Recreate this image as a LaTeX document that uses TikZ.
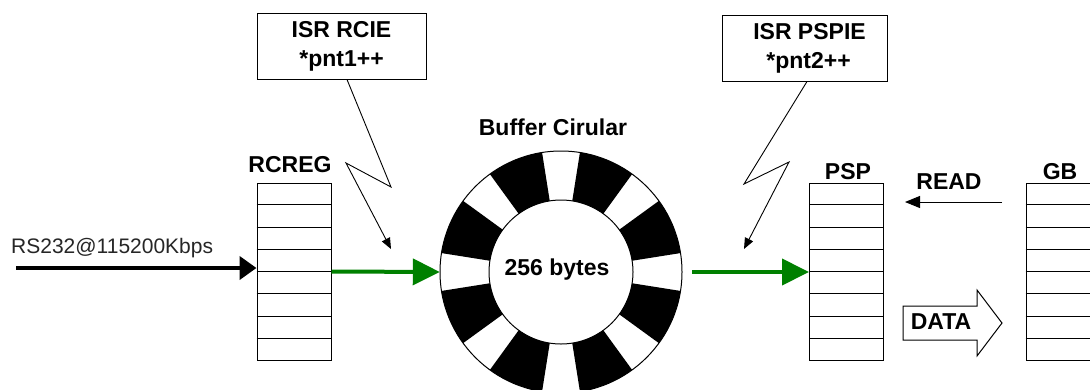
\documentclass[tikz,border=0pt]{standalone}
\usepackage{fontspec}
\setmainfont{Liberation Sans}
\usetikzlibrary{arrows.meta,calc}
\definecolor{arrgreen}{RGB}{0,128,0}
\begin{document}
\begin{tikzpicture}[x=1pt,y=-1pt,
  lbl/.style={font=\bfseries\fontsize{23}{26}\selectfont,inner sep=0pt},
  isrbox/.style={draw,line width=1pt,minimum height=66pt,align=center,inner sep=0pt,
     font=\bfseries\fontsize{23}{29}\selectfont},
  regbox/.style={draw,line width=1pt,minimum width=74pt,minimum height=177pt,inner sep=0pt},
  thick arr/.style={line width=4.5pt,-{Triangle[length=17pt,width=23pt]}},
  green arr/.style={arrgreen,line width=4pt,-{Triangle[length=27pt,width=26pt]}},
  bolt/.style={line width=0.9pt,line join=miter,-{Triangle[length=11pt,width=9pt]}},
  read arr/.style={line width=1pt,-{Triangle[length=15pt,width=12pt]}}]
\clip (0,0) rectangle (1090,389);
\fill[white] (0,0) rectangle (1090,389);

% registers
\node[regbox] (rcreg) at (294,271.5) {};
\node[regbox] (psp) at (846.5,271.5) {};
\node[regbox] (gb) at (1063,271.5) {};
\foreach \r in {rcreg,psp,gb}{
  \foreach \k in {1,...,7}{
    \draw[line width=1pt] ($(\r.north west)!\k/8!(\r.south west)$) -- ($(\r.north east)!\k/8!(\r.south east)$);
  }
}
\node[lbl] (rcregl) at (290,165) {RCREG};
\node[lbl] (pspl) at (848,172) {PSP};
\node[lbl] (gbl) at (1060,172) {GB};

% ring buffer
\node[circle,minimum size=242pt,inner sep=0pt] (ring) at (561,272) {};
\foreach \a in {22.5,67.5,...,337.5}{
  \fill[black] ($(ring.center)+(\a-13.5:121)$) arc[start angle=\a-13.5,end angle=\a+13.5,radius=121]
     -- ($(ring.center)+(\a+13.5:72)$) arc[start angle=\a+13.5,end angle=\a-13.5,radius=72] -- cycle;
}
\draw[line width=1pt] (ring.center) circle[radius=121];
\draw[line width=1pt] (ring.center) circle[radius=72];
\node[lbl] (bytes) at (557,270) {256 bytes};
\node[lbl] (bufl) at (553,127) {Buffer Cirular};

% ISR boxes
\node[isrbox,minimum width=169pt] (isr1) at (341.5,46) {ISR RCIE\\*pnt1++};
\node[isrbox,minimum width=165pt] (isr2) at (804.5,48) {\hspace*{10pt}ISR PSPIE\\\hspace*{8pt}*pnt2++};

% input
\node[inner sep=0pt,anchor=west,font=\fontsize{21}{24}\selectfont,text=black!85] (rs) at (11,248) {RS232@115200Kbps};
\coordinate (src) at (16,268);
\draw[thick arr] (src) -- (src -| rcreg.west);

% green arrows
\draw[green arr] (rcreg.east) -- (ring.west);
\coordinate (g2s) at (692,272);
\draw[green arr] (g2s) -- (g2s -| psp.west);

% lightning bolts
\coordinate (b1a) at (391,187);
\coordinate (b1b) at (346,163);
\coordinate (b1t) at (391,249);
\draw[bolt] (isr1.south -| 347,0) -- (b1a) -- (b1b) -- (b1t);
\coordinate (b2a) at (744,184);
\coordinate (b2b) at (789,162);
\coordinate (b2t) at (744,249);
\draw[bolt] (isr2.south -| 807,0) -- (b2a) -- (b2b) -- (b2t);

% READ
\node[lbl] (readl) at (949,182) {READ};
\coordinate (rs1) at (1002,202);
\coordinate (rs2) at (905,202);
\draw[read arr] (rs1) -- (rs2);

% DATA arrow
\draw[line width=1pt,fill=white] (903,306) -- (977,306) -- (977,290) -- (1002,323) -- (977,356) -- (977,340) -- (903,340) -- cycle;
\node[lbl] (data) at (941,322) {DATA};
\end{tikzpicture}
\end{document}
